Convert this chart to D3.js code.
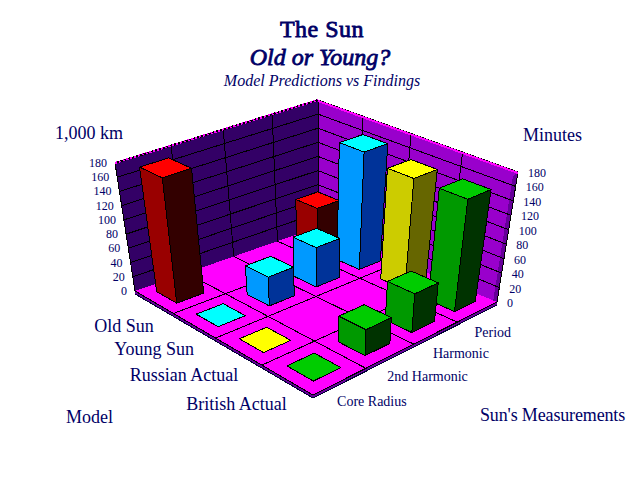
<!DOCTYPE html>
<html>
<head>
<meta charset="utf-8">
<script src="https://cdn.jsdelivr.net/npm/d3@7"></script>
<style>
  body { margin: 0; background: #fff; }
  text { font-family: "Liberation Serif", "Times New Roman", serif; fill: #000066; }
</style>
</head>
<body>
<script>
// data, null means no bar in that cell
var categories = ["Core Radius", "2nd Harmonic", "Harmonic", "Period"];
var seriesNames = ["Old Sun", "Young Sun", "Russian Actual", "British Actual"];
var oldSun = [175, null, null, 60];
var youngSun = [0, 40, 55, 165];
var russianActual = [0, null, null, 155];
var britishActual = [0, 35, 53, 155];
var ticks = [0, 20, 40, 60, 80, 100, 120, 140, 160, 180];

var seriesValues = [oldSun, youngSun, russianActual, britishActual];
// top, left face, right face
var seriesColors = [
  ["#FF0000", "#990000", "#330000"],
  ["#00FFFF", "#0099FF", "#003399"],
  ["#FFFF00", "#CCCC00", "#666600"],
  ["#00CC00", "#009900", "#003300"]
];

var width = 640, height = 480;

var svg = d3.select("body").append("svg")
    .attr("width", width)
    .attr("height", height)
    .style("display", "block");

// corners of the floor and of the plane at 180, on screen
var floorQuad = {left: [135, 291], front: [313, 395], right: [497, 302], back: [318, 227]};
var topQuad = {left: [115, 163], front: [313, 258], right: [518, 172], back: [318, 100]};

// unit square to screen quad, u runs left to front, v runs left to back
function quadMap(q) {
  var dx1 = q.front[0] - q.right[0], dx2 = q.back[0] - q.right[0], sx = q.left[0] - q.front[0] + q.right[0] - q.back[0];
  var dy1 = q.front[1] - q.right[1], dy2 = q.back[1] - q.right[1], sy = q.left[1] - q.front[1] + q.right[1] - q.back[1];
  var den = dx1 * dy2 - dx2 * dy1;
  var g = (sx * dy2 - dx2 * sy) / den, h = (dx1 * sy - sx * dy1) / den;
  var a = q.front[0] - q.left[0] + g * q.front[0], b = q.back[0] - q.left[0] + h * q.back[0];
  var d = q.front[1] - q.left[1] + g * q.front[1], e = q.back[1] - q.left[1] + h * q.back[1];
  return function(u, v) {
    var w = g * u + h * v + 1;
    return [(a * u + b * v + q.left[0]) / w, (d * u + e * v + q.left[1]) / w];
  };
}
var floorMap = quadMap(floorQuad), topMap = quadMap(topQuad);

var uScale = d3.scaleBand().domain(seriesNames).range([0, 1]);
var vScale = d3.scaleBand().domain(categories).range([0, 1]);
var zScale = d3.scaleLinear().domain([0, 180]).range([0, 1]);

function project(u, v, z) {
  var p = floorMap(u, v), q = topMap(u, v);
  return [p[0] + (q[0] - p[0]) * z, p[1] + (q[1] - p[1]) * z];
}

var line = d3.line();
var left = floorQuad.left, front = floorQuad.front, right = floorQuad.right, back = floorQuad.back;

function poly(points, fill, stroke) {
  svg.append("path")
      .attr("d", line(points) + "Z")
      .attr("fill", fill)
      .attr("stroke", stroke || "none")
      .attr("stroke-width", 1)
      .attr("stroke-linejoin", "round")
      .attr("shape-rendering", "crispEdges");
}

function rule(p, q, color, w, dash) {
  svg.append("line")
      .attr("x1", p[0]).attr("y1", p[1])
      .attr("x2", q[0]).attr("y2", q[1])
      .attr("stroke", color)
      .attr("stroke-width", w || 1)
      .attr("stroke-dasharray", dash || null)
      .attr("shape-rendering", "crispEdges");
}

// floor slab edge
poly([left, front, right, [right[0], right[1] + 3], [front[0], front[1] + 3], [left[0], left[1] + 3]], "#660099");
rule([left[0], left[1] + 3], [front[0], front[1] + 3], "#000033");
rule([front[0], front[1] + 3], [right[0], right[1] + 3], "#000033");

// walls
poly([project(0, 0, 0), project(0, 0, 1), project(0, 1, 1), project(0, 1, 0)], "#330066");
poly([project(0, 1, 0), project(0, 1, 1), project(1, 1, 1), project(1, 1, 0)], "#9900CC");
poly([project(1, 1, 0), project(1, 1, 1), [project(1, 1, 1)[0] - 5, project(1, 1, 1)[1] + 4], [right[0] - 4, right[1]]], "#660099");

ticks.forEach(function(t) {
  var z = zScale(t);
  if (t > 0) {
    rule(project(0, 0, z), project(0, 1, z), "#000");
    rule(project(0, 1, z), project(1, 1, z), "#000");
  }
  var pl = project(0, 0, z), pr = project(1, 1, z);
  svg.append("text")
      .attr("x", pl[0] - 8).attr("y", pl[1] + 4)
      .attr("text-anchor", "end")
      .attr("font-size", 12)
      .text(t);
  svg.append("text")
      .attr("x", pr[0] + 10).attr("y", pr[1] + 5)
      .attr("font-size", 12)
      .text(t);
});

// floor
poly([left, front, right, back], "#FF00FF");

// grid on floor and walls, one line per category boundary
vScale.domain().forEach(function(name, k) {
  var v = vScale(name);
  if (k > 0) {
    rule(project(0, v, 0), project(1, v, 0), "#000");
    rule(project(0, v, 0), project(0, v, 1), "#000");
  }
});
uScale.domain().forEach(function(name, k) {
  var u = uScale(name);
  if (k > 0) {
    rule(project(u, 0, 0), project(u, 1, 0), "#000");
    rule(project(u, 1, 0), project(u, 1, 1), "#000");
  }
});

// wall edges and rim
rule(project(0, 0, 0), project(0, 0, 1), "#000");
rule(project(0, 1, 0), project(0, 1, 1), "#000");
rule(project(1, 1, 0), project(1, 1, 1), "#000");
rule(project(0, 0, 1), project(0, 1, 1), "#000", 2);
rule(project(0, 0, 1), project(0, 1, 1), "#FF00FF", 2, "2 2");
rule(project(0, 1, 1), project(1, 1, 1), "#000");
rule([project(0, 1, 1)[0], project(0, 1, 1)[1] + 1], [project(1, 1, 1)[0], project(1, 1, 1)[1] + 1], "#FF00FF", 2);
rule(left, front, "#000");
rule(front, right, "#000");

// bars, back to front
var barFrac = 0.52;
seriesValues.forEach(function(values, i) {
  var ub = uScale.bandwidth();
  var inset = ub * (1 - barFrac) / 2;
  var u0 = uScale(seriesNames[i]) + inset, u1 = u0 + ub * barFrac;
  d3.range(categories.length - 1, -1, -1).forEach(function(j) {
    var val = values[j];
    if (val === null) return;
    var v0 = vScale(categories[j]) + inset, v1 = v0 + ub * barFrac;
    var z = zScale(val);
    var colors = seriesColors[i];
    if (val > 0) {
      poly([project(u0, v0, z), project(u1, v0, z), project(u1, v0, 0), project(u0, v0, 0)], colors[1], "#000");
      poly([project(u1, v0, z), project(u1, v1, z), project(u1, v1, 0), project(u1, v0, 0)], colors[2], "#000");
    }
    poly([project(u0, v0, z), project(u1, v0, z), project(u1, v1, z), project(u0, v1, z)], colors[0], "#000");
  });
});

// axis category labels
categories.forEach(function(name, j) {
  var p = project(1, vScale(name) + vScale.bandwidth() / 2, 0);
  svg.append("text")
      .attr("x", p[0] - 3).attr("y", p[1] + 25)
      .attr("font-size", 14)
      .text(name);
});
seriesNames.forEach(function(name) {
  var p = project(uScale(name) + uScale.bandwidth() / 2, 0, 0);
  svg.append("text")
      .attr("x", p[0]).attr("y", p[1] + 30)
      .attr("text-anchor", "end")
      .attr("font-size", 18)
      .text(name);
});

// bold serif faces fall back to a sans here, so thicken the regular face with a stroke
function label(txt, x, y, size, anchor, bold, style, spacing) {
  svg.append("text")
      .attr("x", x).attr("y", y)
      .attr("text-anchor", anchor || "start")
      .attr("font-size", size)
      .attr("font-style", style || "normal")
      .attr("letter-spacing", spacing || 0)
      .style("stroke", bold ? "#000066" : "none")
      .style("stroke-width", bold ? 0.8 : 0)
      .text(txt);
}

label("The Sun", 322, 37, 24, "middle", true, null, 0.5);
label("Old or Young?", 320, 65, 24, "middle", true, "italic");
label("Model Predictions vs Findings", 322, 86, 16, "middle", false, "italic");
label("1,000 km", 55, 139, 18);
label("Minutes", 523, 141, 18);
label("Model", 66, 423, 18);
label("Sun's Measurements", 480, 421, 18, null, false, null, -0.15);
</script>
</body>
</html>
